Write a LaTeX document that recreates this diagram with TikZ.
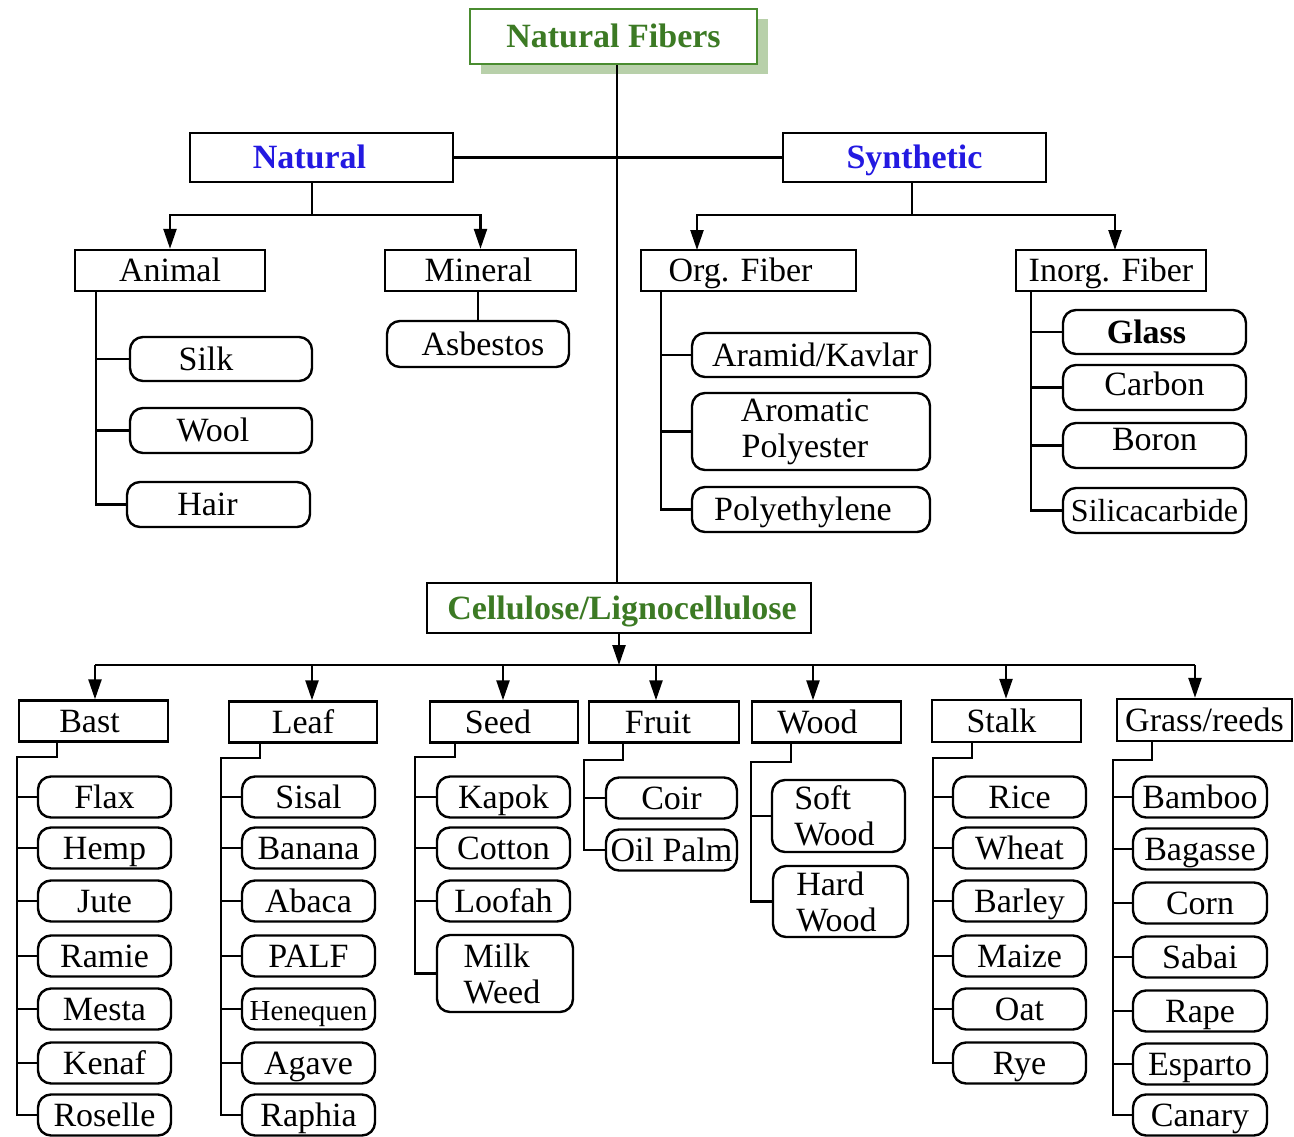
\documentclass[tikz,border=0pt]{standalone}
\usepackage{fontspec}
\setmainfont{Liberation Serif}
\usetikzlibrary{arrows.meta,shadows}
\definecolor{nfgreen}{RGB}{60,122,36}
\definecolor{nfborder}{RGB}{74,140,48}
\definecolor{shgreen}{RGB}{184,208,170}
\definecolor{natblue}{RGB}{35,25,225}
\newcommand\sh[2]{\hspace*{#1}#2}
\tikzset{
  ln/.style={line width=2.4pt},
  arr/.style={line width=2.4pt, -{Triangle[length=20pt,width=13pt]}},
  basebox/.style={draw, line width=2.4pt, inner sep=0pt, align=center, font=\fontsize{34}{36}\selectfont},
  one/.style={text height=26pt, text depth=4pt},
  catbox/.style={basebox, one, rectangle},
  itembox/.style={basebox, one, rounded corners=13pt},
  itemtwo/.style={basebox, rounded corners=13pt},
  wh/.style 2 args={minimum width=#1pt, minimum height=#2pt},
}
\begin{document}
\begin{tikzpicture}[x=1pt,y=-1pt]
\useasboundingbox (0,0) rectangle (1294,1137);
% ---------- top ----------
\node[catbox, wh={287}{55}, draw=nfborder, fill=white, text=nfgreen,
  font=\bfseries\fontsize{34}{36}\selectfont,
  drop shadow={shadow xshift=11pt,shadow yshift=-10pt,fill=shgreen,opacity=1}]
  (nf) at (613.5,36.5) {Natural Fibers};
\node[catbox, wh={263}{49}, text=natblue, font=\bfseries\fontsize{34}{36}\selectfont] (nat) at (321.5,157.5) {\sh{-24pt}{Natural}};
\node[catbox, wh={263}{49}, text=natblue, font=\bfseries\fontsize{34}{36}\selectfont] (syn) at (914.5,157.5) {Synthetic};
\node[catbox, wh={384}{50}, text=nfgreen, font=\bfseries\fontsize{34}{36}\selectfont] (cell) at (619,608) {\sh{6pt}{Cellulose/Lignocellulose}};

\coordinate (vx) at (617,0);
\draw[ln] (vx |- nf.south) -- (vx |- cell.north);
\draw[ln] (nat.east) -- (syn.west);

% ---------- second level ----------
\node[catbox, wh={190}{41}] (animal) at (170,270.5) {Animal};
\node[catbox, wh={191}{41}] (mineral) at (480.5,270.5) {\sh{-4pt}{Mineral}};
\node[catbox, wh={215}{41}] (org) at (748.5,270.5) {\sh{-16pt}{Org. Fiber}};
\node[catbox, wh={190}{41}] (inorg) at (1111,270.5) {Inorg. Fiber};

\coordinate (ns) at (312,215);
\coordinate (ss) at (912,215);
\coordinate (orgin) at (697,250);
\coordinate (inorgin) at (1115,250);
\draw[ln] (ns |- nat.south) -- (ns);
\draw[arr] (ns) -| (animal.north);
\draw[arr] (ns) -| (mineral.north);
\draw[ln] (ss |- syn.south) -- (ss);
\draw[arr] (ss) -| (orgin);
\draw[arr] (ss) -| (inorgin);

% animal
\node[itembox, wh={182}{44}] (silk) at (221,359) {\sh{-30pt}{Silk}};
\node[itembox, wh={182}{45}] (wool) at (221,430.5) {\sh{-16pt}{Wool}};
\node[itembox, wh={183}{45}] (hair) at (218.5,504.5) {\sh{-22pt}{Hair}};
\coordinate (tA) at (96,0);
\draw[ln] (tA |- animal.south) |- (hair.west);
\foreach \n in {silk,wool} \draw[ln] (tA |- \n.west) -- (\n.west);

% mineral
\node[itembox, wh={182}{46}] (asb) at (478,344) {\sh{10pt}{Asbestos}};
\draw[ln] (asb.north |- mineral.south) -- (asb.north);

% organic
\node[itembox, wh={238}{44}] (aramid) at (811,355) {\sh{8pt}{Aramid/Kavlar}};
\node[itemtwo, wh={238}{77}] (arom) at (811,431.5) {\sh{-12pt}{Aromatic}\\\sh{-12pt}{Polyester}};
\node[itembox, wh={238}{45}] (polyeth) at (811,509.5) {\sh{-16pt}{Polyethylene}};
\coordinate (tO) at (661,0);
\draw[ln] (tO |- org.south) |- (polyeth.west);
\foreach \n in {aramid,arom} \draw[ln] (tO |- \n.west) -- (\n.west);

% inorganic
\node[itembox, wh={183}{44}, font=\bfseries\fontsize{34}{36}\selectfont] (glass) at (1154.5,332) {\sh{-16pt}{Glass}};
\node[itembox, wh={183}{45}] (carbon) at (1154.5,387.5) {\raisebox{3pt}{Carbon}};
\node[itembox, wh={183}{45}] (boron) at (1154.5,445.5) {\raisebox{6pt}{Boron}};
\node[itembox, wh={183}{45}, font=\fontsize{32}{34}\selectfont] (sic) at (1154.5,510.5) {Silicacarbide};
\coordinate (tI) at (1031,0);
\draw[ln] (tI |- inorg.south) |- (sic.west);
\foreach \n in {glass,carbon,boron} \draw[ln] (tI |- \n.west) -- (\n.west);

% ---------- cellulose categories ----------
\node[catbox, wh={149}{41}] (bast) at (93.5,721) {\sh{-8pt}{Bast}};
\node[catbox, wh={148}{41}] (leaf) at (303,722) {Leaf};
\node[catbox, wh={148}{41}] (seed) at (504,722) {\sh{-12pt}{Seed}};
\node[catbox, wh={150}{41}] (fruit) at (664,722) {\sh{-12pt}{Fruit}};
\node[catbox, wh={149}{41}] (wood) at (826.5,722) {\sh{-18pt}{Wood}};
\node[catbox, wh={149}{42}] (stalk) at (1006.5,721) {\sh{-10pt}{Stalk}};
\node[catbox, wh={175}{42}] (grass) at (1204.5,720) {Grass/reeds};

\coordinate (aB) at (95,665);
\coordinate (aL) at (312,665);
\coordinate (aS) at (503,665);
\coordinate (aF) at (656,665);
\coordinate (aW) at (813,665);
\coordinate (aSt) at (1006,665);
\coordinate (aG) at (1195,665);
\draw[arr] (cell.south) -- (cell.south |- aB);
\draw[ln] (aB) -- (aG);
\foreach \a/\c in {aB/bast,aL/leaf,aS/seed,aF/fruit,aW/wood,aSt/stalk,aG/grass}
  \draw[arr] (\a) -- (\a |- \c.north);

% bast
\foreach \n/\t/\y in {flax/Flax/797,hemp/Hemp/848,jute/Jute/901,ramie/Ramie/956,mesta/Mesta/1009,kenaf/Kenaf/1063,roselle/Roselle/1115}
  \node[itembox, wh={133}{41}] (\n) at (104.5,\y) {\t};
\coordinate (sB) at (57,757); \coordinate (jB) at (17,757);
\draw[ln] (sB |- bast.south) -- (sB) -- (jB) |- (roselle.west);
\foreach \n in {flax,hemp,jute,ramie,mesta,kenaf} \draw[ln] (jB |- \n.west) -- (\n.west);

% leaf
\foreach \n/\t/\y in {sisal/Sisal/797,banana/Banana/848,abaca/Abaca/901,palf/PALF/956,agave/Agave/1063,raphia/Raphia/1115}
  \node[itembox, wh={133}{41}] (\n) at (308.5,\y) {\t};
\node[itembox, wh={133}{41}, font=\fontsize{29}{31}\selectfont] (henequen) at (308.5,1009) {Henequen};
\coordinate (sL) at (260,758); \coordinate (jL) at (221,758);
\draw[ln] (sL |- leaf.south) -- (sL) -- (jL) |- (raphia.west);
\foreach \n in {sisal,banana,abaca,palf,henequen,agave} \draw[ln] (jL |- \n.west) -- (\n.west);

% seed
\foreach \n/\t/\y in {kapok/Kapok/797,cotton/Cotton/848,loofah/Loofah/901}
  \node[itembox, wh={133}{41}] (\n) at (503.5,\y) {\t};
\node[itemtwo, wh={136}{77}, align=left] (milk) at (505,973.5) {\sh{-6pt}{Milk}\\\sh{-6pt}{Weed}};
\coordinate (sS) at (455,757); \coordinate (jS) at (415,757);
\draw[ln] (sS |- seed.south) -- (sS) -- (jS) |- (milk.west);
\foreach \n in {kapok,cotton,loofah} \draw[ln] (jS |- \n.west) -- (\n.west);

% fruit
\node[itembox, wh={131}{41}] (coir) at (671.5,798) {Coir};
\node[itembox, wh={131}{41}] (oil) at (671.5,850) {Oil Palm};
\coordinate (sF) at (623,760); \coordinate (jF) at (584,760);
\draw[ln] (sF |- fruit.south) -- (sF) -- (jF) |- (oil.west);
\draw[ln] (jF |- coir.west) -- (coir.west);

% wood
\node[itemtwo, wh={133}{72}, align=left] (soft) at (838.5,816) {\sh{-8pt}{Soft}\\\sh{-8pt}{Wood}};
\node[itemtwo, wh={135}{71}, align=left] (hard) at (840.5,901.5) {\sh{-8pt}{Hard}\\\sh{-8pt}{Wood}};
\coordinate (sW) at (791,762); \coordinate (jW) at (751,762);
\draw[ln] (sW |- wood.south) -- (sW) -- (jW) |- (hard.west);
\draw[ln] (jW |- soft.west) -- (soft.west);

% stalk
\foreach \n/\t/\y in {rice/Rice/797,wheat/Wheat/848,barley/Barley/901,maize/Maize/956,oat/Oat/1009,rye/Rye/1063}
  \node[itembox, wh={133}{41}] (\n) at (1019.5,\y) {\t};
\coordinate (sT) at (972,758); \coordinate (jT) at (933,758);
\draw[ln] (sT |- stalk.south) -- (sT) -- (jT) |- (rye.west);
\foreach \n in {rice,wheat,barley,maize,oat} \draw[ln] (jT |- \n.west) -- (\n.west);

% grass
\foreach \n/\t/\y in {bamboo/Bamboo/797,bagasse/Bagasse/849,corn/Corn/903,sabai/Sabai/957,rape/Rape/1011,esparto/Esparto/1064,canary/Canary/1115}
  \node[itembox, wh={134}{41}] (\n) at (1200,\y) {\t};
\coordinate (sG) at (1152,760); \coordinate (jG) at (1113,760);
\draw[ln] (sG |- grass.south) -- (sG) -- (jG) |- (canary.west);
\foreach \n in {bamboo,bagasse,corn,sabai,rape,esparto} \draw[ln] (jG |- \n.west) -- (\n.west);
\end{tikzpicture}
\end{document}
